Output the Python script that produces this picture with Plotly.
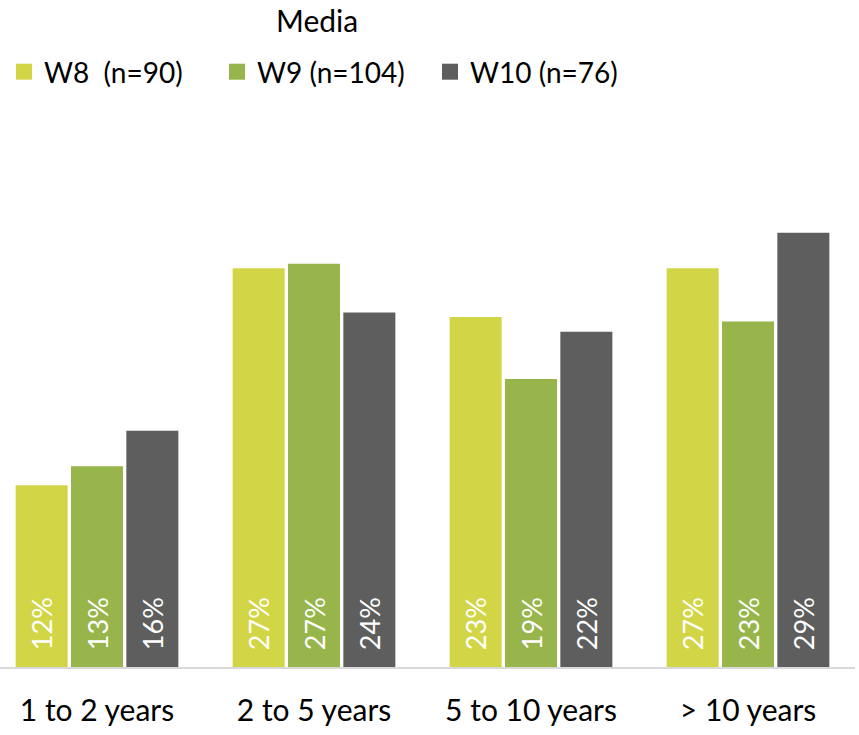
import plotly.graph_objects as go

categories = ["1 to 2 years", "2 to 5 years", "5 to 10 years", "> 10 years"]
series_names = ["W8  (n=90)", "W9 (n=104)", "W10 (n=76)"]
w8 = [12.3, 27.0, 23.7, 27.0]
w9 = [13.6, 27.3, 19.5, 23.4]
w10 = [16.0, 24.0, 22.7, 29.4]
w8_labels = ["12%", "27%", "23%", "27%"]
w9_labels = ["13%", "27%", "19%", "23%"]
w10_labels = ["16%", "24%", "22%", "29%"]
colors = ["#D2D646", "#97B54B", "#5E5E5E"]

FONT = "Lato, 'Open Sans', sans-serif"
W, H = 859, 735
T, B, R = 224, 68, 4
plot_w = W - R
plot_h = H - T - B
PAD = "\u00a0\u00a0"  # pushes bar labels up off the baseline


def py(px_from_top):
    # pixel row -> paper y
    return (H - B - px_from_top) / plot_h


fig = go.Figure()
for name, vals, labels, col in zip(series_names, [w8, w9, w10],
                                   [w8_labels, w9_labels, w10_labels], colors):
    fig.add_trace(go.Bar(
        x=categories, y=vals, name=name, showlegend=False,
        marker=dict(color=col, line=dict(width=0)),
        text=[PAD + t for t in labels], textposition="inside", insidetextanchor="start",
        textangle=-90, textfont=dict(color="white", size=27, family=FONT),
        hoverinfo="x+y+name",
    ))
    # legend-only entry with a bigger square swatch
    fig.add_trace(go.Scatter(
        x=[None], y=[None], mode="markers", name=name,
        marker=dict(symbol="square", size=18, color=col),
    ))

fig.update_layout(
    width=W, height=H,
    margin=dict(l=0, r=R, t=T, b=B),
    paper_bgcolor="white", plot_bgcolor="white",
    barmode="group", bargap=0.235, bargroupgap=0.06,
    font=dict(family=FONT, size=28, color="#000000"),
    showlegend=True,
    legend=dict(orientation="h", x=4 / plot_w, xanchor="left", y=1 - 72 / H, yref="container",
                yanchor="middle", font=dict(size=28, color="#000000"),
                traceorder="normal", entrywidth=168, entrywidthmode="pixels"),
    annotations=[dict(text="Media", x=317 / plot_w, xref="paper", y=py(20), yref="paper",
                      showarrow=False, font=dict(size=30, color="#000000"),
                      xanchor="center", yanchor="middle")],
    uniformtext=dict(minsize=10, mode="show"),
)
fig.update_xaxes(range=[-0.447, 3.493], showline=True, linecolor="#D9D9D9",
                 linewidth=2, ticks="", showgrid=False, ticklabelstandoff=16,
                 tickfont=dict(size=30, color="#000000"), fixedrange=True)
fig.update_yaxes(range=[0, 30], visible=False, showgrid=False, fixedrange=True)

fig.write_html("out.html", config={"displayModeBar": False},
               post_script="document.body.style.margin='0';")
